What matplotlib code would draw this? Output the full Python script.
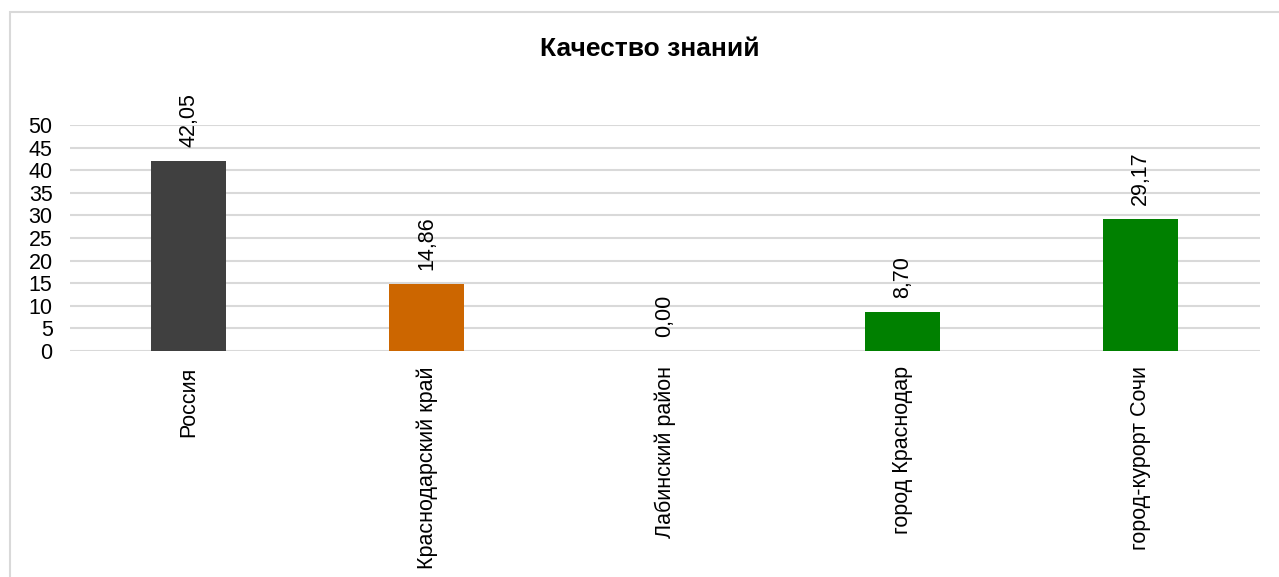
import matplotlib
matplotlib.use("Agg")
from matplotlib import pyplot as plt
from matplotlib.patches import Rectangle

plt.rcParams["font.family"] = ["Liberation Sans", "DejaVu Sans"]

# Качество знаний по территориям
categories = ["Россия", "Краснодарский край", "Лабинский район", "город Краснодар", "город-курорт Сочи"]
values = [42.05, 14.86, 0.00, 8.70, 29.17]
colors = ["#404040", "#cc6600", "#008000", "#008000", "#008000"]
y_ticks = [0, 5, 10, 15, 20, 25, 30, 35, 40, 45, 50]

fig = plt.figure(figsize=(12.79, 5.77), dpi=100)
ax = fig.add_axes([0.0547, 0.3917, 0.9303, 0.3917])

x = range(len(categories))
ax.bar(x, values, width=0.315, color=colors, zorder=2)

# подписи значений над столбцами
for xi, v in zip(x, values):
    ax.annotate(f"{v:.2f}".replace(".", ","), (xi, v), xytext=(0, 10),
                textcoords="offset points", rotation=90, ha="center", va="bottom",
                fontsize=15.5, color="black")

ax.set_xlim(-0.5, len(categories) - 0.5)
ax.set_ylim(0, 50)
ax.set_yticks(y_ticks)
ax.set_yticklabels([str(t) for t in y_ticks], fontsize=15.5)
ax.set_xticks(list(x))
ax.set_xticklabels(categories, rotation=90, fontsize=15.5, va="top")
ax.tick_params(axis="both", length=0)
ax.tick_params(axis="x", pad=11)
ax.tick_params(axis="y", pad=12.5)
ax.yaxis.grid(True, color="#d9d9d9", linewidth=1.5, zorder=0)
ax.set_axisbelow(True)
for s in ax.spines.values():
    s.set_visible(False)

fig.text(0.5083, 0.915, "Качество знаний", ha="center", va="center",
         fontsize=19, fontweight="bold")

# рамка диаграммы
fig.patches.append(Rectangle((10 / 1279, -0.1), 1.2, 1 - 11.5 / 577 + 0.1,
                             transform=fig.transFigure, fill=False,
                             edgecolor="#d9d9d9", linewidth=1.5))

fig.savefig("out.png", dpi=100)
